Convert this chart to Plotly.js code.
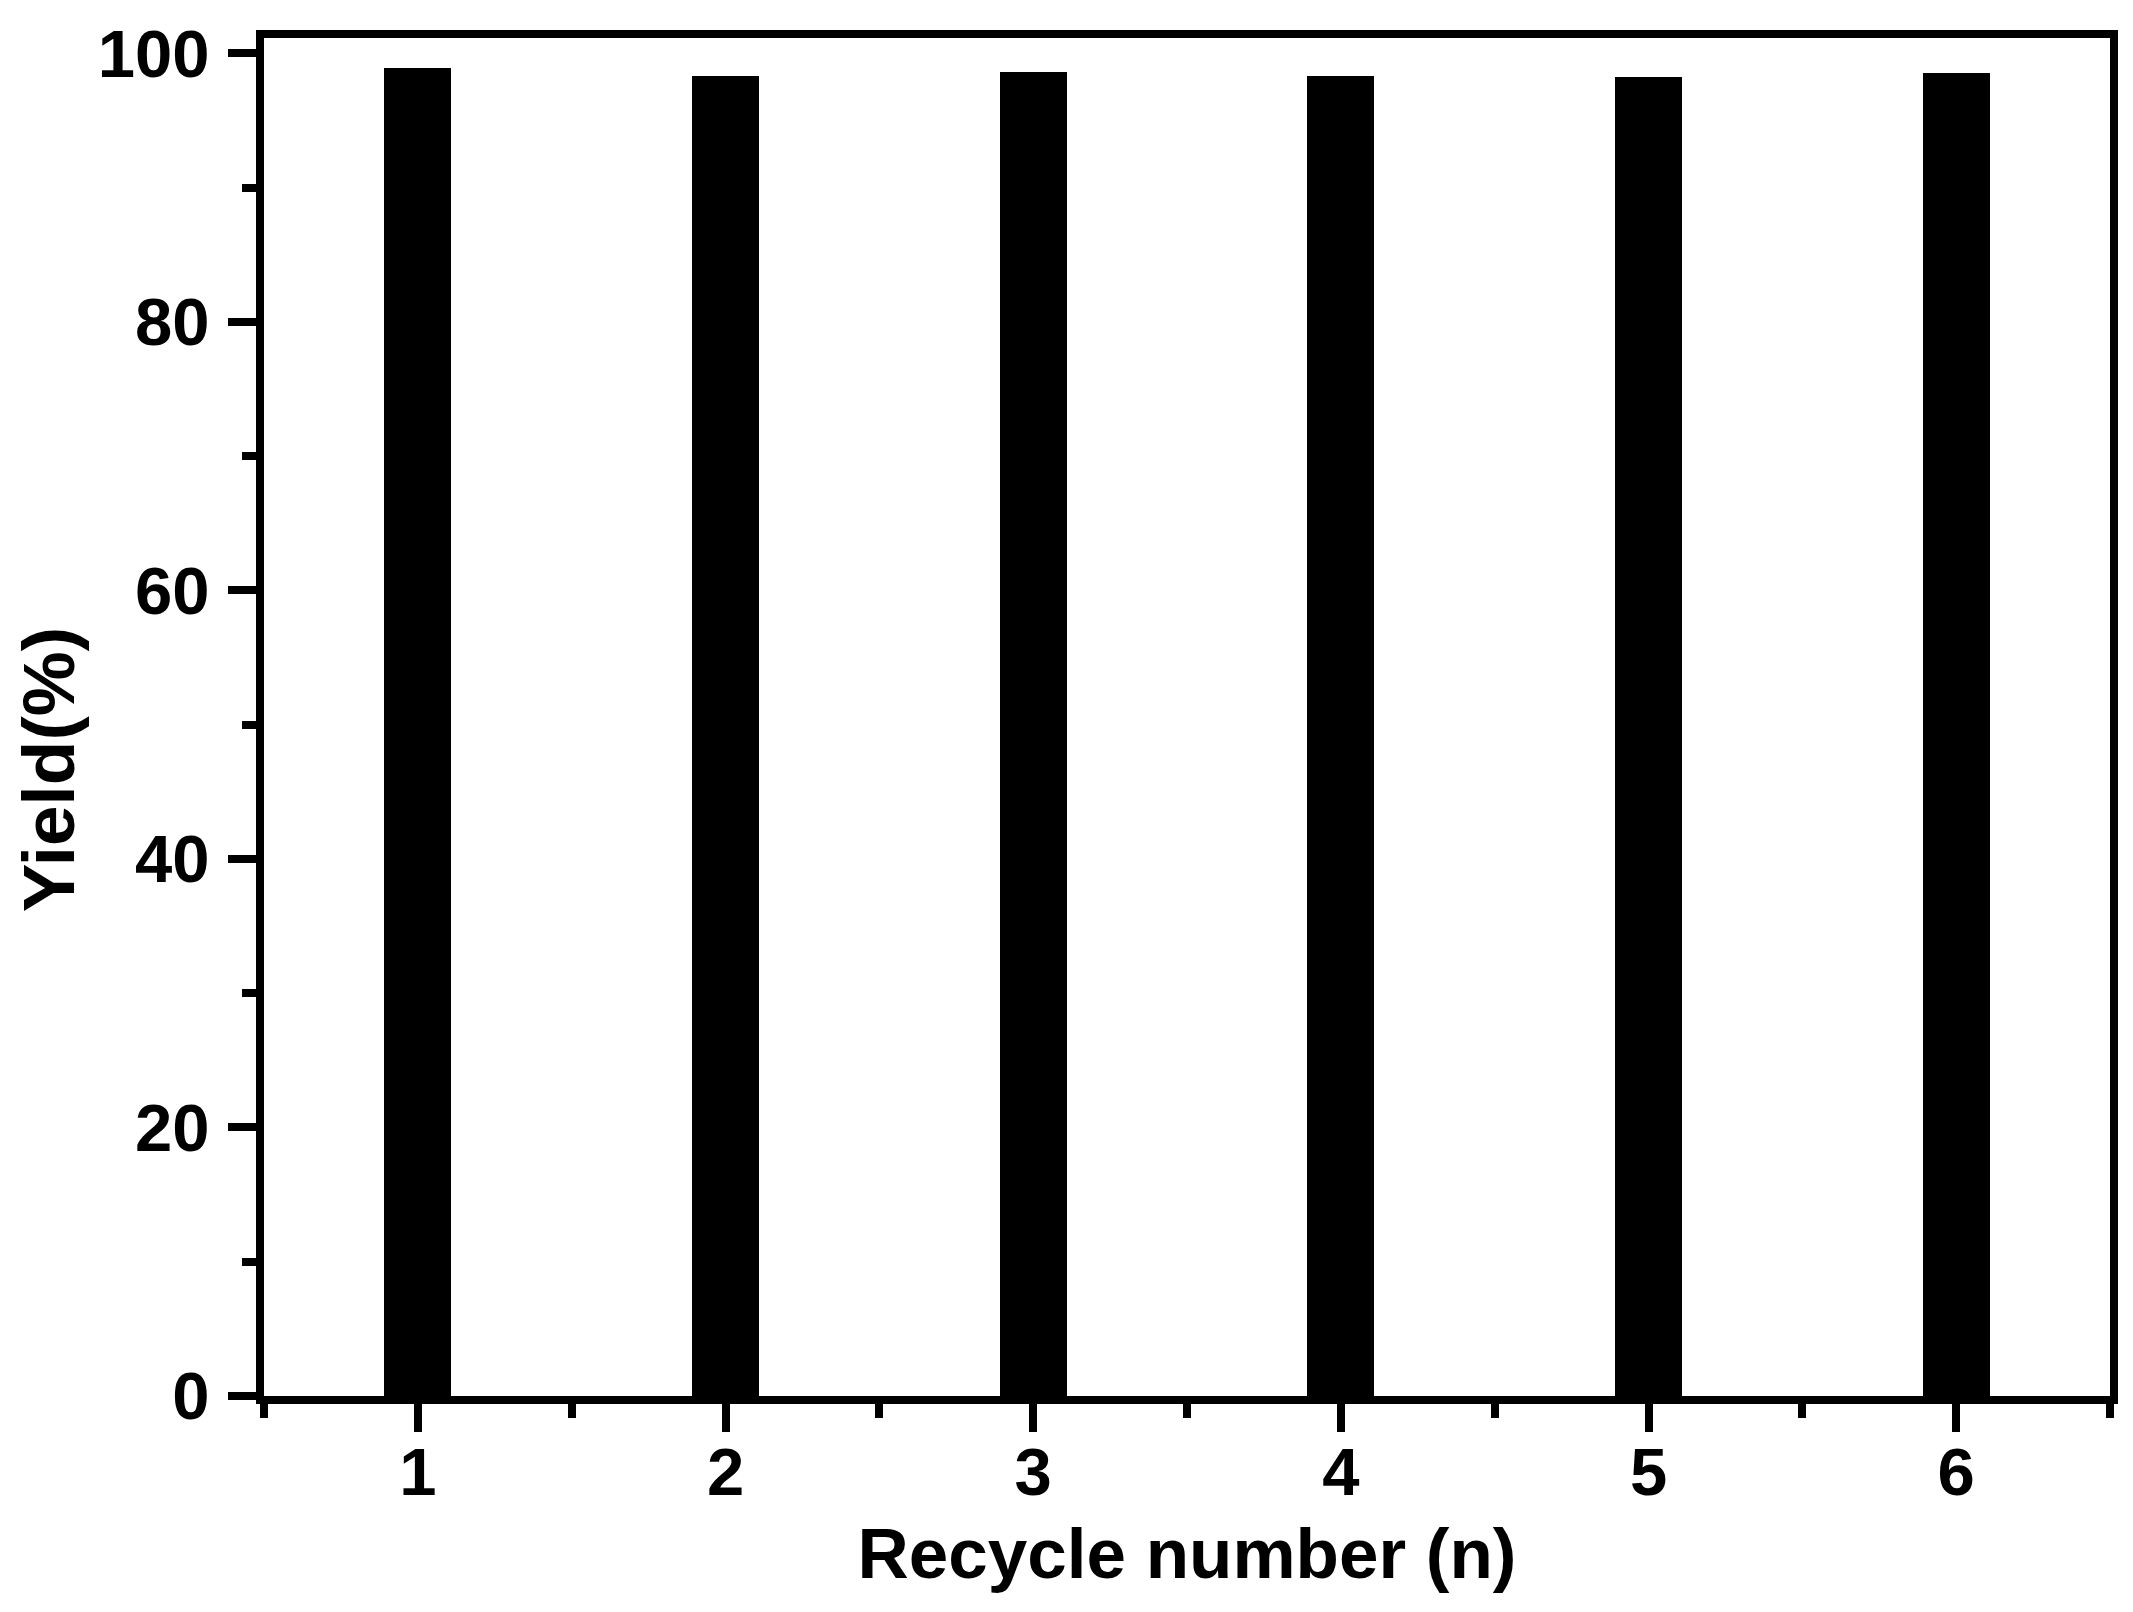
<!DOCTYPE html>
<html>
<head>
<meta charset="utf-8">
<script src="https://cdn.plot.ly/plotly-3.0.1.min.js"></script>
<style>
  html, body { margin: 0; padding: 0; background: #fff; }
  #chart { width: 2133px; height: 1612px; }
</style>
</head>
<body>
<div id="chart"></div>
<script>
// Data
const recycleNumbers = [1, 2, 3, 4, 5, 6];
const yieldValues = [98.9, 98.3, 98.6, 98.3, 98.2, 98.5];
const xTitle = "Recycle number (n)";
const yTitle = "Yield(%)";

const FONT = "Liberation Sans, Arial, sans-serif";

const trace = {
    type: "bar",
    x: recycleNumbers,
    y: yieldValues,
    width: 0.217,
    marker: { color: "#000", line: { width: 0 } },
    hoverinfo: "x+y",
};

const axisCommon = {
    showline: true,
    linecolor: "#000",
    linewidth: 8,
    mirror: true,
    showgrid: false,
    zeroline: false,
    ticks: "outside",
    ticklen: 28,
    tickwidth: 8,
    tickcolor: "#000",
    tickfont: { family: FONT, size: 67, color: "#000", weight: 700 },
};

const layout = {
    width: 2133,
    height: 1612,
    margin: { l: 264, r: 23, t: 38, b: 216 },
    paper_bgcolor: "#fff",
    plot_bgcolor: "#fff",
    showlegend: false,
    bargap: 0,
    xaxis: {
        ...axisCommon,
        range: [0.5, 6.5],
        tickmode: "array",
        tickvals: recycleNumbers,
        ticktext: recycleNumbers.map(String),
        ticklabelstandoff: -17,
        minor: { tick0: 0.5, dtick: 0.5, ticks: "outside", ticklen: 14, tickwidth: 8, tickcolor: "#000" },
        title: {
            text: xTitle,
            font: { family: FONT, size: 71, color: "#000", weight: 700 },
            standoff: 23,
        },
    },
    yaxis: {
        ...axisCommon,
        range: [0, 101.14],
        tick0: 0,
        dtick: 20,
        ticklabelstandoff: 5,
        minor: { tick0: 0, dtick: 10, ticks: "outside", ticklen: 14, tickwidth: 8, tickcolor: "#000" },
    },
    annotations: [
        {
            text: yTitle,
            xref: "paper",
            yref: "y",
            x: -0.117,
            y: 46.6,
            xanchor: "center",
            yanchor: "middle",
            textangle: -90,
            showarrow: false,
            font: { family: FONT, size: 73, color: "#000", weight: 700 },
        },
    ],
};

Plotly.newPlot("chart", [trace], layout, { displayModeBar: false, staticPlot: true });
</script>
</body>
</html>
